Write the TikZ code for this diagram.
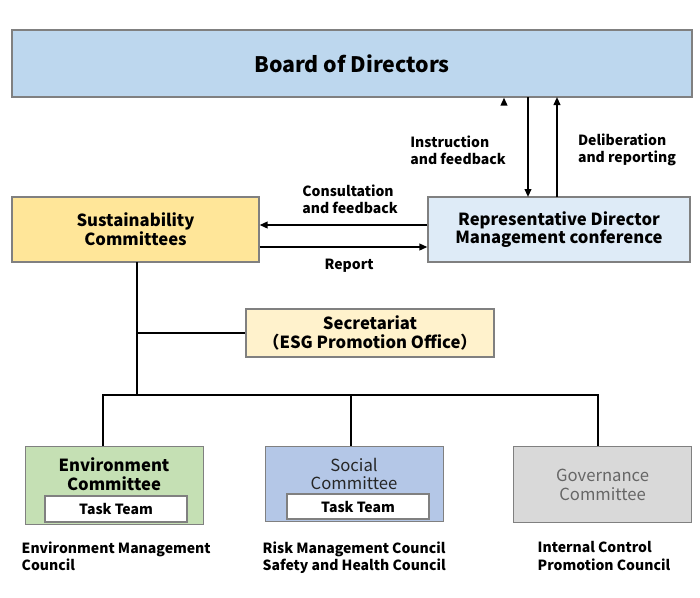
\documentclass[tikz,border=0pt]{standalone}
\usepackage{fontspec}
\setmainfont{Noto Sans CJK JP}
\usetikzlibrary{arrows.meta}
\definecolor{bd}{HTML}{BDD7EE}
\definecolor{ye}{HTML}{FFE699}
\definecolor{lb}{HTML}{DEEBF7}
\definecolor{lye}{HTML}{FFF2CC}
\definecolor{gr}{HTML}{C5E0B4}
\definecolor{bl}{HTML}{B4C7E7}
\definecolor{gy}{HTML}{D9D9D9}
\begin{document}
\begin{tikzpicture}[x=0.75pt,y=-0.75pt,
 box/.style={draw=#1,line width=0.9pt,align=center,font=\bfseries\fontsize{12.5}{14}\selectfont},
 lab/.style={align=left,font=\bfseries\fontsize{10.5}{13}\selectfont},
 conn/.style={line width=1.3pt},
 arr/.style={line width=1.3pt,-{Triangle[length=6pt,width=5pt]}}]
\useasboundingbox (0,0) rectangle (700,597);
\node[box=gray,fill=bd,minimum width=680*0.75pt,minimum height=67*0.75pt,font=\bfseries\fontsize{16}{18}\selectfont] (board) at (352,63.5) {Board of Directors};
\node[box=gray,fill=ye,minimum width=247*0.75pt,minimum height=65*0.75pt] (sus) at (135.5,229.5) {Sustainability\\Committees};
\node[box=gray,fill=lb,minimum width=262*0.75pt,minimum height=65*0.75pt] (rep) at (559,229.5) {Representative Director\\Management conference};
\node[box=gray,fill=lye,minimum width=248*0.75pt,minimum height=48*0.75pt] (sec) at (370,333) {Secretariat\\（ESG Promotion Office）};
\node[box=gray,fill=gr,minimum width=178*0.75pt,minimum height=78*0.75pt,anchor=north west] (env) at (25,446) {};
\node[box=gray,fill=bl,minimum width=178*0.75pt,minimum height=75*0.75pt,anchor=north west] (soc) at (265,446) {};
\node[box=gray,fill=gy,minimum width=178*0.75pt,minimum height=76*0.75pt,anchor=north west,text=gray!80!black,font=\fontsize{12.5}{14}\selectfont] (gov) at (513,446) {Governance\\Committee};
\node[box=black,font=\bfseries\fontsize{12.5}{14}\selectfont,draw=none] (envt) at (114,474) {Environment\\Committee};
\node[box=black,font=\fontsize{12.5}{14}\selectfont,draw=none,text=gray!30!black] (soct) at (354,474) {Social\\Committee};
\node[box=gray,fill=white,minimum width=142*0.75pt,minimum height=26*0.75pt,font=\bfseries\fontsize{10.5}{12}\selectfont] (tt1) at (116,509) {Task Team};
\node[box=gray,fill=white,minimum width=142*0.75pt,minimum height=25*0.75pt,font=\bfseries\fontsize{10.5}{12}\selectfont] (tt2) at (358,506.5) {Task Team};
\draw[arr] ([xshift=-24*0.75pt]board.south -| rep.north) ++(-31,0) coordinate (a1);
\coordinate (d1) at (528,97); \coordinate (d2) at (528,197);
\coordinate (u1) at (557,197); \coordinate (u2) at (557,97);
\draw[arr] (d1) -- (d2);
\draw[arr] (u1) -- (u2);
\draw[arr] (rep.west |- 0,225) -- (sus.east |- 0,225);
\draw[arr] (sus.east |- 0,247) -- (rep.west |- 0,247);
\coordinate (j1) at (137,333); \coordinate (j2) at (137,395);
\draw[conn] (137,262) -- (j2);
\draw[conn] (j1) -- (sec.west);
\draw[conn] (103,446) -- (103,395) -- (598,395) -- (598,446);
\draw[conn] (351,395) -- (351,446);
\node[lab] at (458,150) {Instruction\\and feedback};
\node[lab] at (627,150) {Deliberation\\and reporting};
\node[lab] at (350,199) {Consultation\\and feedback};
\node[lab] at (349,266) {Report};
\node[lab,anchor=north west] at (17,537) {Environment Management\\Council};
\node[lab,anchor=north west] at (258,537) {Risk Management Council\\Safety and Health Council};
\node[lab,anchor=north west] at (533,537) {Internal Control\\Promotion Council};
\end{tikzpicture}
\end{document}
